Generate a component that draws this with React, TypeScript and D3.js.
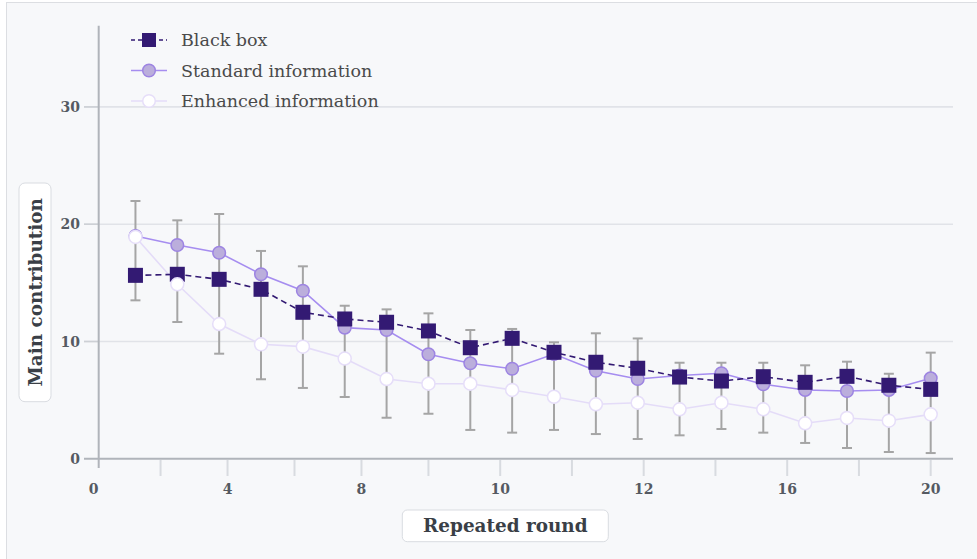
import React from "react";
import * as d3 from "d3";

const rounds = [1, 2, 3, 4, 5, 6, 7, 8, 9, 10, 11, 12, 13, 14, 15, 16, 17, 18, 19, 20];
const blackBox = [15.64, 15.73, 15.3, 14.45, 12.49, 11.92, 11.64, 10.9, 9.47, 10.27, 9.08, 8.23, 7.72, 6.97, 6.63, 7.0, 6.52, 7.03, 6.27, 5.92];
const standardInfo = [18.99, 18.23, 17.57, 15.73, 14.33, 11.18, 10.98, 8.91, 8.14, 7.68, 8.93, 7.51, 6.8, 7.1, 7.29, 6.35, 5.87, 5.78, 5.87, 6.86];
const enhancedInfo = [18.91, 14.88, 11.49, 9.76, 9.56, 8.55, 6.8, 6.4, 6.4, 5.87, 5.29, 4.65, 4.78, 4.22, 4.78, 4.22, 3.03, 3.48, 3.25, 3.79];
const errHigh = [21.98, 20.33, 20.87, 17.72, 16.41, 13.05, 12.74, 12.4, 10.98, 11.07, 9.93, 10.7, 10.26, 8.19, 8.19, 8.19, 7.97, 8.28, 7.25, 9.05];
const errLow = [13.51, 11.66, 8.96, 6.78, 6.04, 5.27, 3.5, 3.84, 2.46, 2.23, 2.46, 2.11, 1.69, 2.0, 2.54, 2.23, 1.35, 0.92, 0.58, 0.49];

const yTicks = [0, 10, 20, 30];
const xTickIndex = [0, 1, 2, 3, 4, 5, 6, 7, 8, 9, 10, 11, 12];
const xTickLabels = ["0", "", "4", "", "8", "", "10", "", "12", "", "16", "", "20"];
const seriesNames = ["Black box", "Standard information", "Enhanced information"];

const C_BLACK = "#331a73";
const C_STD_FILL = "#bbaedc";
const C_STD_STROKE = "#9d84e2";
const C_STD_LINE = "#a68df0";
const C_ENH_STROKE = "#e6def9";
const C_ENH_LINE = "#e4dcf8";
const FONT = "'DejaVu Serif', serif";

export default function App() {
  const W = 977;
  const H = 559;
  const x = d3.scaleLinear().domain([0, 20]).range([93.6, 930.7]);
  const y = d3.scaleLinear().domain([0, 37]).range([458.8, 24.8]);
  // axis tick placement (piecewise, as in the original)
  const tickRound = d3.scaleLinear().domain([0, 5, 12]).range([0, 8, 20]);
  const xAxisLeft = 98.7;
  const plotRight = 953;

  const lineGen = (vals: number[]) =>
    d3.line<number>().x((_, i) => x(rounds[i])).y((d) => y(d))(vals) || "";

  const sq = 15;
  const legendY = [40, 70.5, 101];

  return (
    <div style={{ position: "absolute", left: 0, top: 0 }}>
      <svg width={W} height={H} style={{ display: "block" }}>
        <rect x={6.5} y={2.5} width={W + 20} height={H + 20} fill="#f7f8fa" stroke="#dcdee2" strokeWidth={1} />

        {/* grid lines */}
        {yTicks.filter((t) => t > 0).map((t) => (
          <g key={"g" + t}>
            <line x1={84} x2={plotRight} y1={y(t)} y2={y(t)} stroke="#e1e3e8" strokeWidth={1.6} />
            <line x1={84} x2={xAxisLeft} y1={y(t)} y2={y(t)} stroke="#cdd0d5" strokeWidth={1.6} />
          </g>
        ))}

        {/* y tick labels */}
        {yTicks.map((t) => (
          <text key={"yl" + t} x={80} y={y(t) + 5} textAnchor="end" fontFamily={FONT} fontWeight="bold" fontSize={14} fill="#555a62">
            {t}
          </text>
        ))}

        {/* x ticks */}
        {xTickIndex.map((i) => {
          const px = x(tickRound(i));
          return (
            <g key={"xt" + i}>
              {i > 0 && <line x1={px} x2={px} y1={460} y2={476} stroke="#d8dbe0" strokeWidth={2} />}
              {xTickLabels[i] && (
                <text x={px} y={494} textAnchor="middle" fontFamily={FONT} fontWeight="bold" fontSize={14} fill="#555a62">
                  {xTickLabels[i]}
                </text>
              )}
            </g>
          );
        })}

        {/* axes */}
        <line x1={84} x2={plotRight} y1={y(0)} y2={y(0)} stroke="#b0b4ba" strokeWidth={2} />
        <line x1={xAxisLeft} x2={xAxisLeft} y1={y(37) + 1} y2={468} stroke="#b0b4ba" strokeWidth={2} />

        {/* error bars */}
        {rounds.map((r, i) => {
          const px = x(r);
          return (
            <g key={"e" + r} stroke="#a5a5a5" strokeWidth={2}>
              <line x1={px} x2={px} y1={y(errHigh[i])} y2={y(errLow[i])} />
              <line x1={px - 5} x2={px + 5} y1={y(errHigh[i])} y2={y(errHigh[i])} />
              <line x1={px - 5} x2={px + 5} y1={y(errLow[i])} y2={y(errLow[i])} />
            </g>
          );
        })}

        {/* lines */}
        <path d={lineGen(enhancedInfo)} fill="none" stroke={C_ENH_LINE} strokeWidth={1.6} />
        <path d={lineGen(standardInfo)} fill="none" stroke={C_STD_LINE} strokeWidth={1.6} />
        <path d={lineGen(blackBox)} fill="none" stroke={C_BLACK} strokeWidth={1.6} strokeDasharray="6,4" />

        {/* markers */}
        {standardInfo.map((v, i) => (
          <circle key={"s" + i} cx={x(rounds[i])} cy={y(v)} r={6.3} fill={C_STD_FILL} stroke={C_STD_STROKE} strokeWidth={1.5} />
        ))}
        {blackBox.map((v, i) => (
          <rect key={"b" + i} x={x(rounds[i]) - sq / 2} y={y(v) - sq / 2} width={sq} height={sq} fill={C_BLACK} />
        ))}
        {enhancedInfo.map((v, i) => (
          <circle key={"n" + i} cx={x(rounds[i])} cy={y(v)} r={6.5} fill="#ffffff" stroke={C_ENH_STROKE} strokeWidth={1.5} />
        ))}

        {/* legend */}
        <g>
          <line x1={131} x2={167} y1={legendY[0]} y2={legendY[0]} stroke={C_BLACK} strokeWidth={1.6} strokeDasharray="4,3" />
          <rect x={149 - 7} y={legendY[0] - 7} width={14} height={14} fill={C_BLACK} />
          <line x1={131} x2={167} y1={legendY[1]} y2={legendY[1]} stroke={C_STD_LINE} strokeWidth={1.6} />
          <circle cx={149} cy={legendY[1]} r={6.3} fill={C_STD_FILL} stroke={C_STD_STROKE} strokeWidth={1.5} />
          <line x1={131} x2={167} y1={legendY[2]} y2={legendY[2]} stroke={C_ENH_LINE} strokeWidth={1.6} />
          <circle cx={149} cy={legendY[2]} r={6.3} fill="#ffffff" stroke={C_ENH_STROKE} strokeWidth={1.5} />
          {seriesNames.map((n, i) => (
            <text key={n} x={181} y={legendY[i] + 6} fontFamily={FONT} fontSize={17.5} fill="#4a4a4a">
              {n}
            </text>
          ))}
        </g>

        {/* y axis title */}
        <rect x={19} y={183} width={32} height={218.7} rx={6} fill="#ffffff" stroke="#d9dce1" strokeWidth={1} />
        <text transform={`translate(${35 + 6.5},${292.3}) rotate(-90)`} textAnchor="middle" fontFamily={FONT} fontWeight="bold" fontSize={18.4} fill="#3a3f47">
          Main contribution
        </text>

        {/* x axis title */}
        <rect x={402.3} y={510} width={206} height={31.7} rx={5} fill="#ffffff" stroke="#d9dce1" strokeWidth={1} />
        <text x={505.3} y={532} textAnchor="middle" fontFamily={FONT} fontWeight="bold" fontSize={18.4} fill="#3a3f47">
          Repeated round
        </text>
      </svg>
    </div>
  );
}
